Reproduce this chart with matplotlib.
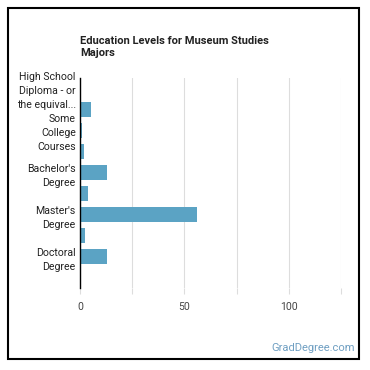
import matplotlib
matplotlib.use("Agg")
import matplotlib.pyplot as plt
from matplotlib.patches import Rectangle

# categories (only every other one gets a label on the chart)
categories = [
    "High School Diploma - or the equival...",
    "Post-Secondary Certificate",
    "Some College Courses",
    "Associate's Degree",
    "Bachelor's Degree",
    "Post-Baccalaureate",
    "Master's Degree",
    "Post-Master's Certificate",
    "Doctoral Degree",
    "Post-Doctoral Training",
]
tick_text = [
    "High School\nDiploma - or\nthe equival...",
    "",
    "Some\nCollege\nCourses",
    "",
    "Bachelor's\nDegree",
    "",
    "Master's\nDegree",
    "",
    "Doctoral\nDegree",
    "",
]
values = [0.4, 5.3, 1.0, 2.0, 13.0, 4.0, 55.8, 2.5, 13.0, 0.6]
x_ticks = [0, 25, 50, 75, 100, 125]
x_labels = ["0", "", "50", "", "100", ""]

plt.rcParams['font.family'] = ['Roboto', 'DejaVu Sans']

fig = plt.figure(figsize=(3.7, 3.7), dpi=100)
ax = fig.add_axes([80 / 370, 1 - 288 / 370, 261 / 370, 210 / 370])

ypos = list(range(len(categories)))
ax.barh(ypos, values, height=0.68, color="#5ba3c4", zorder=3)
ax.set_ylim(len(categories) - 0.5, -0.5)
ax.set_xlim(0, 125)

ax.set_yticks(ypos)
ax.set_yticklabels(tick_text, fontsize=7.6, color="#222222", linespacing=1.5)
ax.tick_params(axis="y", length=0, pad=3)

ax.set_xticks(x_ticks)
ax.set_xticklabels(x_labels, fontsize=7.6, color="#444444")
ax.tick_params(axis="x", length=4, color="#dddddd", pad=6)
ax.grid(axis="x", color="#dddddd", linewidth=0.8, zorder=0)

for side in ["top", "right", "bottom"]:
    ax.spines[side].set_visible(False)
ax.spines["left"].set_color("#000000")
ax.spines["left"].set_linewidth(1.0)
ax.spines["left"].set_zorder(4)

fig.text(80 / 370, 1 - 36 / 370, "Education Levels for Museum Studies\nMajors",
         fontsize=8, fontweight="bold", color="#222222", va="top", ha="left",
         linespacing=1.3)

fig.text(355 / 370, 1 - 348 / 370, "GradDegree.com", fontsize=8,
         color="#6f9fc2", ha="right", va="center")

fig.patches.append(Rectangle((7.5 / 370, 1 - 359 / 370), 351.5 / 370, 351.5 / 370,
                             transform=fig.transFigure, fill=False,
                             edgecolor="#000000", linewidth=1.5))

fig.savefig("out.png", dpi=100)
